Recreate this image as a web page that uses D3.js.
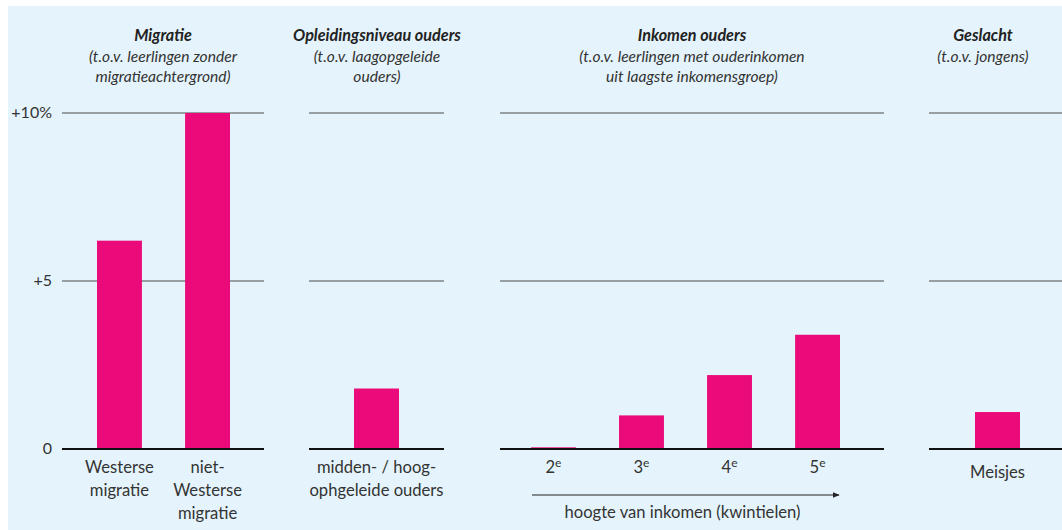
<!DOCTYPE html>
<html>
<head>
<meta charset="utf-8">
<script src="https://cdn.jsdelivr.net/npm/d3@7"></script>
<style>
  body { margin: 0; background: #fff; }
  svg text { font-family: Lato, "Open Sans", sans-serif; fill: #333; }
  .title { font-weight: bold; font-style: italic; font-size: 16.2px; fill: #222; }
  .sub { font-style: italic; font-size: 15.6px; }
  .cat { font-size: 16.6px; }
  .tick-lbl { font-size: 16px; }
</style>
</head>
<body>
<svg id="chart" width="1062" height="530"></svg>
<script>
// data
var panelTitles = ['Migratie', 'Opleidingsniveau ouders', 'Inkomen ouders', 'Geslacht']
var panelSubtitles = [
    ['(t.o.v. leerlingen zonder', 'migratieachtergrond)'],
    ['(t.o.v. laagopgeleide', 'ouders)'],
    ['(t.o.v. leerlingen met ouderinkomen', 'uit laagste inkomensgroep)'],
    ['(t.o.v. jongens)']
]
var migratieCats = [['Westerse', 'migratie'], ['niet-', 'Westerse', 'migratie']]
var migratieVals = [6.2, 10.0]
var opleidingCats = [['midden- / hoog-', 'ophgeleide ouders']]
var opleidingVals = [1.8]
var inkomenCats = [['2', 'e'], ['3', 'e'], ['4', 'e'], ['5', 'e']]
var inkomenVals = [0.05, 1.0, 2.2, 3.4]
var geslachtCats = [['Meisjes']]
var geslachtVals = [1.1]
var yTicks = [0, 5, 10]
var yTickLabels = ['0', '+5', '+10%']
var arrowLabel = 'hoogte van inkomen (kwintielen)'

// layout
var barColor = '#ea0a7a'
var baseY = 449
var topY = 113
var panelLines = [[62, 264], [309, 444], [500, 884], [929, 1062]]
var bandRanges = [[97, 230], [354, 399], [531, 840], [975, 1020]]
var titleX = [163, 377, 692, 983]
var panelCats = [migratieCats, opleidingCats, inkomenCats, geslachtCats]
var panelVals = [migratieVals, opleidingVals, inkomenVals, geslachtVals]

var svg = d3.select('#chart')
svg.append('rect')
    .attr('x', 8).attr('y', 6)
    .attr('width', 1062 - 8).attr('height', 530 - 6)
    .attr('fill', '#e5f4fc')

var yScale = d3.scaleLinear()
    .domain([0, 10])
    .range([baseY, topY])

// y tick labels
svg.selectAll('.tick-lbl')
    .data(yTicks)
    .enter()
    .append('text')
    .attr('class', 'tick-lbl')
    .attr('x', 52)
    .attr('y', function(d) { return yScale(d) + 5 })
    .attr('text-anchor', 'end')
    .text(function(d, i) { return yTickLabels[i] })

for (let p = 0; p < panelTitles.length; p++) {
    let g = svg.append('g').attr('class', 'panel-' + p)
    let x0 = panelLines[p][0], x1 = panelLines[p][1]

    // title + subtitle
    g.append('text')
        .attr('class', 'title')
        .attr('x', titleX[p]).attr('y', 41)
        .attr('text-anchor', 'middle')
        .text(panelTitles[p])
    g.selectAll('.sub')
        .data(panelSubtitles[p])
        .enter()
        .append('text')
        .attr('class', 'sub')
        .attr('x', titleX[p])
        .attr('y', function(d, i) { return 62 + i * 20 })
        .attr('text-anchor', 'middle')
        .text(function(d) { return d })

    // grid lines
    g.selectAll('.grid')
        .data(yTicks.filter(function(d) { return d > 0 }))
        .enter()
        .append('line')
        .attr('class', 'grid')
        .attr('x1', x0).attr('x2', x1)
        .attr('y1', function(d) { return yScale(d) })
        .attr('y2', function(d) { return yScale(d) })
        .attr('stroke', '#4a4a4a')
        .attr('stroke-width', 1)

    let n = panelVals[p].length
    let xScale = d3.scaleBand()
        .domain(d3.range(n))
        .range(bandRanges[p])
        .paddingInner(n > 1 ? 0.49 : 0)
        .paddingOuter(0)

    g.selectAll('.bar')
        .data(panelVals[p])
        .enter()
        .append('rect')
        .attr('class', 'bar')
        .attr('x', function(d, i) { return xScale(i) })
        .attr('y', function(d) { return yScale(d) })
        .attr('width', xScale.bandwidth())
        .attr('height', function(d) { return baseY - yScale(d) })
        .attr('fill', barColor)

    // baseline
    g.append('line')
        .attr('x1', x0).attr('x2', x1)
        .attr('y1', yScale(0)).attr('y2', yScale(0))
        .attr('stroke', '#111')
        .attr('stroke-width', 2)

    // category labels
    let cats = panelCats[p]
    for (let i = 0; i < cats.length; i++) {
        let cx = xScale(i) + xScale.bandwidth() / 2
        if (p == 2) {
            let t = g.append('text')
                .attr('class', 'cat')
                .attr('x', cx).attr('y', baseY + 24)
                .attr('text-anchor', 'middle')
            t.append('tspan').text(cats[i][0])
            t.append('tspan')
                .attr('dy', -6)
                .style('font-size', '12px')
                .text(cats[i][1])
        } else {
            g.selectAll('.cat-' + i)
                .data(cats[i])
                .enter()
                .append('text')
                .attr('class', 'cat cat-' + i)
                .attr('x', cx)
                .attr('y', function(d, j) { return (p == 3 ? baseY + 29 : baseY + 24) + j * 23 })
                .attr('text-anchor', 'middle')
                .text(function(d) { return d })
        }
    }

    if (p == 2) {
        // arrow under quintiles
        svg.append('defs').append('marker')
            .attr('id', 'arrowhead')
            .attr('viewBox', '0 0 10 10')
            .attr('refX', 9).attr('refY', 5)
            .attr('markerWidth', 7).attr('markerHeight', 7)
            .attr('orient', 'auto')
            .append('path')
            .attr('d', 'M0,1 L10,5 L0,9 Z')
            .attr('fill', '#222')
        let ax0 = xScale(0) + 1
        let ax1 = xScale(n - 1) + xScale.bandwidth() - 1
        g.append('line')
            .attr('x1', ax0).attr('x2', ax1)
            .attr('y1', 495).attr('y2', 495)
            .attr('stroke', '#222')
            .attr('stroke-width', 1)
            .attr('marker-end', 'url(#arrowhead)')
        g.append('text')
            .attr('class', 'cat')
            .attr('x', (ax0 + ax1) / 2 - 3)
            .attr('y', 518)
            .attr('text-anchor', 'middle')
            .text(arrowLabel)
    }
}
</script>
</body>
</html>
